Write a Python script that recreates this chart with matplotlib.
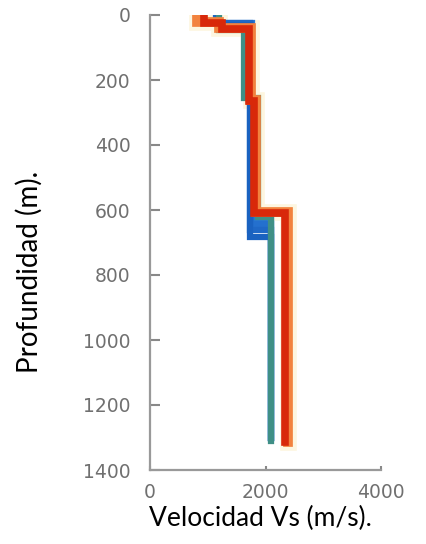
import numpy as np
import matplotlib
matplotlib.use("Agg")
import matplotlib.pyplot as plt

# layer boundaries (m) and Vs (m/s) for each profile of the ensemble
red_depth = [0, 24, 42, 265, 610, 1315]
red_vs = [930, 1250, 1720, 1800, 2330]

orange_depth = [0, 20, 40, 262, 605, 1315]
orange_vs = [820, 1200, 1750, 1840, 2390]

teal_depth = [0, 45, 255, 620, 1310]
teal_vs = [1200, 1630, 1870, 2100]

# a bundle of blue profiles, they differ in the depth of the deep step
blue_depth = [0, 30, 682, 1300]
blue_vs = [1180, 1730, 2100]
blue2_depth = [0, 25, 662, 1300]
blue2_vs = [1150, 1740, 2100]
blue3_depth = [0, 28, 642, 1300]
blue3_vs = [1170, 1750, 2100]
blue4_depth = [0, 26, 625, 1300]
blue4_vs = [1160, 1760, 2100]

xticks = [0, 2000, 4000]
yticks = [0, 200, 400, 600, 800, 1000, 1200, 1400]


def step_xy(depth, vs):
    # turn layers into a staircase line
    x = np.repeat(vs, 2)
    y = np.column_stack([depth[:-1], depth[1:]]).ravel()
    return x, y


fig = plt.figure(figsize=(4.27, 5.44), dpi=100)
ax = fig.add_axes([150 / 427, 1 - 470 / 544, 231 / 427, 455 / 544])

profiles = [
    (orange_depth, orange_vs, "#fdf3d4", 12, 0.7),
    (blue4_depth, blue4_vs, "#2a7ad4", 4.5, 1),
    (blue3_depth, blue3_vs, "#2470ce", 4.5, 1),
    (blue2_depth, blue2_vs, "#1f68c6", 4.5, 1),
    (blue_depth, blue_vs, "#1a62c0", 4.5, 1),
    (teal_depth, teal_vs, "#3f8f86", 4.5, 1),
    (orange_depth, orange_vs, "#f2823e", 7, 1),
    (red_depth, red_vs, "#d8280a", 5.5, 1),
]
for d, v, c, lw, a in profiles:
    x, y = step_xy(d, v)
    ax.plot(x, y, color=c, lw=lw, alpha=a, solid_joinstyle="miter")

ax.set_xlim(0, 4000)
ax.set_ylim(1400, 0)
ax.set_xticks(xticks)
ax.set_yticks(yticks)

for s in ["top", "right"]:
    ax.spines[s].set_visible(False)
for s in ["left", "bottom"]:
    ax.spines[s].set_color("#999999")
    ax.spines[s].set_linewidth(1.6)

ax.tick_params(axis="y", direction="in", length=7, width=1.5, color="#888888",
               labelsize=13.5, labelcolor="#707070", pad=14)
ax.tick_params(axis="x", direction="in", length=3, width=1.5, color="#888888",
               labelsize=13.5, labelcolor="#707070", pad=9)

fig.text(260 / 427, 1 - 518 / 544, "Velocidad Vs (m/s).", ha="center", va="center",
         fontsize=19, family="Lato", color="black")
fig.text(29 / 427, 1 - 272 / 544, "Profundidad (m).", ha="center", va="center",
         rotation=90, fontsize=20, family="Lato", color="black")

fig.savefig("out.png", dpi=100)
